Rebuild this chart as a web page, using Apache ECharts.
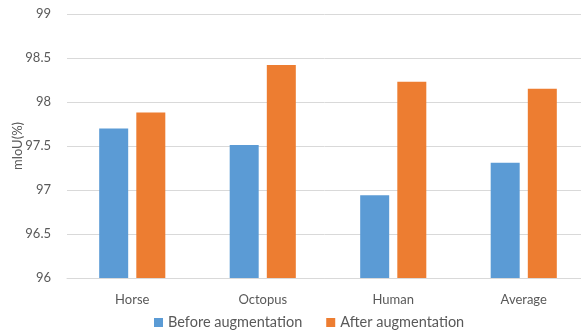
<!DOCTYPE html>
<html>
<head>
<meta charset="utf-8">
<script src="https://cdn.jsdelivr.net/npm/echarts@6/dist/echarts.min.js"></script>
<style>
  html, body { margin: 0; padding: 0; background: #fff; }
  #chart { width: 581px; height: 335px; }
</style>
</head>
<body>
<div id="chart"></div>
<script>
// Per-object mIoU before and after data augmentation
const categories = ['Horse', 'Octopus', 'Human', 'Average'];
const beforeAug = [97.70, 97.51, 96.94, 97.31];
const afterAug = [97.88, 98.42, 98.23, 98.15];
const seriesNames = ['Before augmentation', 'After augmentation'];
const yTicks = { min: 96, max: 99, step: 0.5 };

const font = 'Lato, "Open Sans", sans-serif';
const textGrey = '#595959';

const chart = echarts.init(document.getElementById('chart'), null, { renderer: 'canvas' });
chart.setOption({
  animation: false,
  textStyle: { fontFamily: font },
  grid: { left: 67, top: 14, right: -8, bottom: 57, containLabel: false, outerBoundsMode: 'none' },
  legend: {
    data: seriesNames,
    bottom: 0,
    left: 149,
    itemWidth: 9,
    itemHeight: 9,
    itemGap: 24,
    icon: 'rect',
    textStyle: { color: textGrey, fontSize: 14.5, fontFamily: font }
  },
  xAxis: {
    type: 'category',
    data: categories,
    axisLine: { show: true, lineStyle: { color: '#d9d9d9', width: 1 } },
    axisTick: { show: false },
    axisLabel: { color: textGrey, fontSize: 13, margin: 15, fontFamily: font }
  },
  yAxis: {
    type: 'value',
    min: yTicks.min,
    max: yTicks.max,
    interval: yTicks.step,
    name: 'mIoU(%)',
    nameLocation: 'middle',
    nameGap: 43,
    nameMoveOverlap: false,
    nameRotate: 90,
    nameTextStyle: { color: textGrey, fontSize: 13, fontFamily: font },
    axisLine: { show: false },
    axisTick: { show: false },
    axisLabel: { color: textGrey, fontSize: 13, margin: 16, fontFamily: font },
    splitLine: { lineStyle: { color: '#d9d9d9', width: 1 } }
  },
  series: [
    {
      name: seriesNames[0],
      type: 'bar',
      data: beforeAug,
      barWidth: 29,
      barGap: '28%',
      itemStyle: { color: '#5B9BD5' }
    },
    {
      name: seriesNames[1],
      type: 'bar',
      data: afterAug,
      barWidth: 29,
      itemStyle: { color: '#ED7D31' }
    }
  ]
});
</script>
</body>
</html>
